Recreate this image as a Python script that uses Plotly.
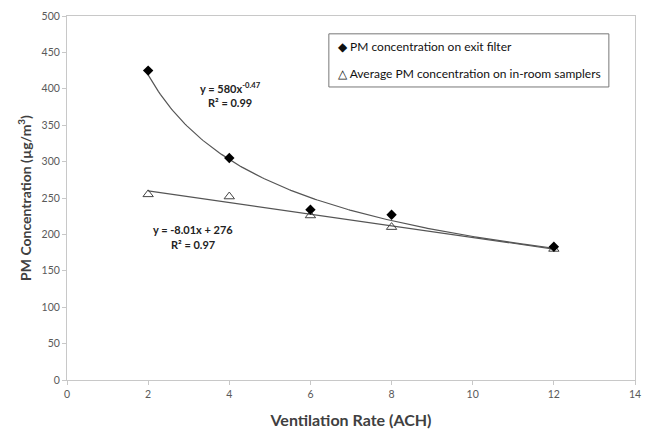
import numpy as np
import plotly.graph_objects as go

ach = [2, 4, 6, 8, 12]
exit_filter = [425, 305, 234, 227, 183]
in_room = [255, 252, 226, 210, 180]
x_ticks = [0, 2, 4, 6, 8, 10, 12, 14]
y_ticks = [0, 50, 100, 150, 200, 250, 300, 350, 400, 450, 500]
legend_labels = ["PM concentration on exit filter",
                 "Average PM concentration on in-room samplers"]

xa = np.array(ach, dtype=float)
# power-law fit (log-log regression) for exit filter
b, loga = np.polyfit(np.log(xa), np.log(np.array(exit_filter, dtype=float)), 1)
# linear fit for in-room samplers
m, c = np.polyfit(xa, np.array(in_room, dtype=float), 1)
xs = np.linspace(xa.min(), xa.max(), 200)

FONT = "Lato, 'Open Sans', sans-serif"
fig = go.Figure()
fig.add_trace(go.Scatter(x=xs, y=np.exp(loga) * xs ** b, mode="lines",
                         line=dict(color="#555555", width=1.2), showlegend=False, hoverinfo="skip"))
fig.add_trace(go.Scatter(x=xs, y=m * xs + c, mode="lines",
                         line=dict(color="#555555", width=1.2), showlegend=False, hoverinfo="skip"))
fig.add_trace(go.Scatter(x=ach, y=in_room, mode="markers", showlegend=False,
                         name=legend_labels[1],
                         marker=dict(symbol="triangle-up-open", size=9, color="#444444",
                                     line=dict(width=1, color="#444444"))))
fig.add_trace(go.Scatter(x=ach, y=exit_filter, mode="markers", showlegend=False,
                         name=legend_labels[0],
                         marker=dict(symbol="diamond", size=8, color="black")))

# equations
eq_font = dict(size=11, color="#222222", family=FONT)
fig.add_annotation(x=4.02, y=402, text="<b>y = 580x<sup>-0.47</sup></b>", showarrow=False, font=eq_font)
fig.add_annotation(x=4.02, y=381, text="<b>R² = 0.99</b>", showarrow=False, font=eq_font)
fig.add_annotation(x=3.1, y=207, text="<b>y = -8.01x + 276</b>", showarrow=False, font=eq_font)
fig.add_annotation(x=3.1, y=186, text="<b>R² = 0.97</b>", showarrow=False, font=eq_font)

# legend box (Excel style)
fig.add_shape(type="rect", xref="paper", yref="paper", x0=0.461, x1=0.954, y0=0.805, y1=0.951,
              line=dict(color="#777777", width=1), fillcolor="white", layer="above")
leg_font = dict(size=12, color="#111111", family=FONT)
fig.add_annotation(xref="paper", yref="paper", x=0.474, y=0.915, xanchor="left", yanchor="middle",
                   text="◆ " + legend_labels[0], showarrow=False, font=leg_font)
fig.add_annotation(xref="paper", yref="paper", x=0.474, y=0.843, xanchor="left", yanchor="middle",
                   text="△ " + legend_labels[1], showarrow=False, font=leg_font)

# page body has an 8px default margin, so the figure is sized/offset to compensate
fig.update_layout(
    width=645, height=421,
    margin=dict(l=59, r=18, t=8, b=49),
    paper_bgcolor="white", plot_bgcolor="white",
    font=dict(family=FONT, color="#595959", size=10),
    showlegend=False,
    xaxis=dict(range=[0, 14], tickvals=x_ticks, showgrid=False, zeroline=False, automargin=False,
               showline=True, linecolor="#c8c8c8", linewidth=1, mirror=True,
               ticks="outside", tickcolor="#c8c8c8", ticklen=4,
               tickfont=dict(size=10.5, color="#595959"),
               title=dict(text="<b>Ventilation Rate (ACH)</b>", standoff=16,
                          font=dict(size=16, color="#404040", family=FONT))),
    yaxis=dict(range=[0, 500], tickvals=y_ticks, showgrid=False, zeroline=False, automargin=False,
               showline=True, linecolor="#c8c8c8", linewidth=1, mirror=True,
               ticks="outside", tickcolor="#c8c8c8", ticklen=4,
               tickfont=dict(size=10.5, color="#595959"),
               title=dict(text="<b>PM Concentration (µg/m<sup>3</sup>)</b>", standoff=6,
                          font=dict(size=14, color="#404040", family=FONT))),
)
fig.write_html("out.html")
